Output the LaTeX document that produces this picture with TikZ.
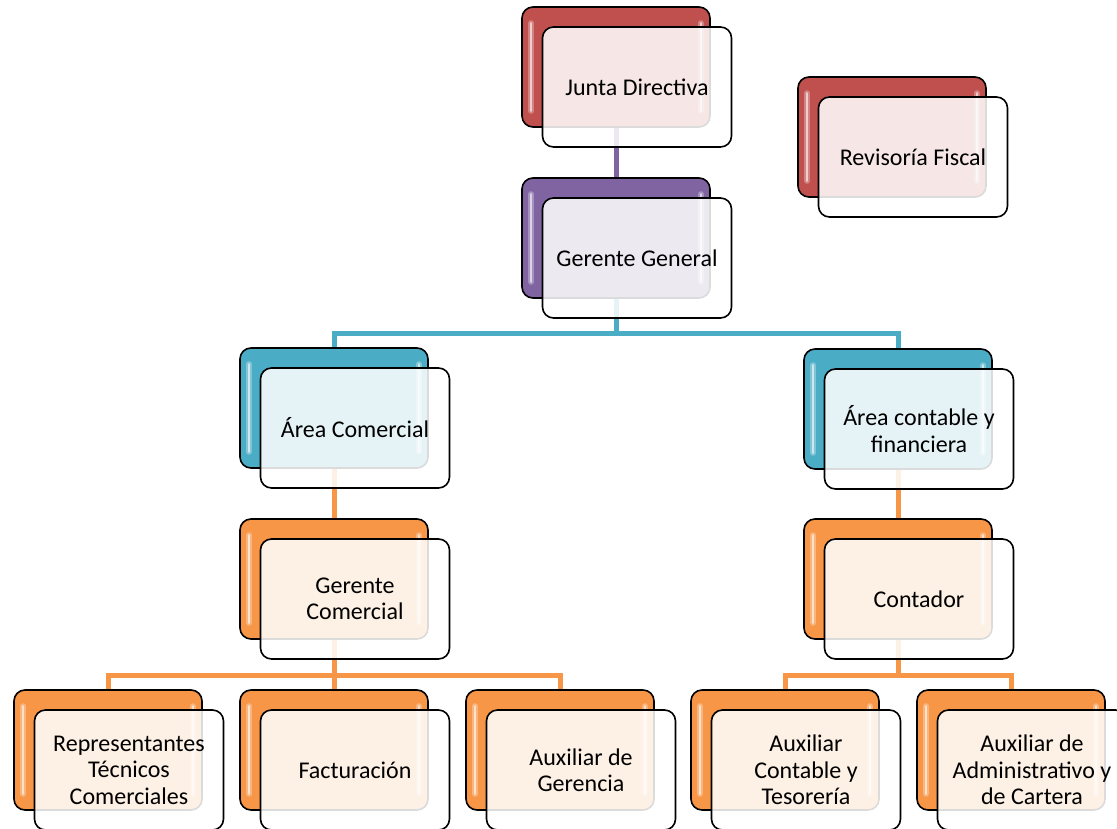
\documentclass[tikz,border=0pt]{standalone}
\usepackage{fontspec}
\setmainfont{Carlito}
\pgfdeclarelayer{bg}
\pgfsetlayers{bg,main}
\definecolor{cred}{HTML}{C0504D}
\definecolor{cpurple}{HTML}{8064A2}
\definecolor{cblue}{HTML}{4BACC6}
\definecolor{corange}{HTML}{F79646}
\tikzset{
  backbox/.style={draw=black, line width=1.6pt, rounded corners=11pt,
    minimum width=188pt, minimum height=120pt, inner sep=0pt},
  frontbox/.style={draw=black, line width=1.6pt, rounded corners=11pt,
    minimum width=189pt, minimum height=120pt, inner sep=2pt,
    fill=white, fill opacity=0.86, text opacity=1, align=center,
    font=\fontsize{24}{26.5}\selectfont},
  glint/.style={white, line width=6pt, opacity=0.3, line cap=round},
  glintcore/.style={white, line width=2.5pt, opacity=0.6, line cap=round},
  conn/.style={line width=5pt},
}
\newcommand\orgbox[5]{%
  \node[backbox, fill=#4] (#1-b) at (#2,#3) {};
  \draw[glint] ([xshift=10pt,yshift=-17pt]#1-b.north west) -- ([xshift=10pt,yshift=17pt]#1-b.south west);
  \draw[glintcore] ([xshift=10pt,yshift=-17pt]#1-b.north west) -- ([xshift=10pt,yshift=17pt]#1-b.south west);
  \draw[glint] ([xshift=-10pt,yshift=-17pt]#1-b.north east) -- ([xshift=-10pt,yshift=17pt]#1-b.south east);
  \draw[glintcore] ([xshift=-10pt,yshift=-17pt]#1-b.north east) -- ([xshift=-10pt,yshift=17pt]#1-b.south east);
  \node[frontbox] (#1) at ([xshift=21pt,yshift=-20pt]#1-b.center) {#5};
}
\begin{document}
\begin{tikzpicture}[x=1pt,y=-1pt]
\useasboundingbox (0,0) rectangle (1117,828);
\clip (0,0) rectangle (1117,828);
\orgbox{jd}{616}{67}{cred}{Junta Directiva}
\orgbox{rf}{892}{137}{cred}{Revisoría Fiscal}
\orgbox{gg}{616}{238}{cpurple}{Gerente General}
\orgbox{ac}{334}{408}{cblue}{Área Comercial}
\orgbox{acf}{898}{409}{cblue}{Área contable y\\financiera}
\orgbox{gc}{334}{579}{corange}{Gerente\\Comercial}
\orgbox{con}{898}{579}{corange}{Contador}
\orgbox{rep}{108}{750}{corange}{Representantes\\Técnicos\\Comerciales}
\orgbox{fac}{334}{750}{corange}{Facturación}
\orgbox{aux}{560}{750}{corange}{Auxiliar de\\Gerencia}
\orgbox{auxc}{785}{750}{corange}{Auxiliar\\Contable y\\Tesorería}
\orgbox{adm}{1011}{750}{corange}{Auxiliar de\\Administrativo y\\de Cartera}
\coordinate (busA) at (616,333);
\coordinate (busB) at (334,675);
\coordinate (busC) at (898,675);
\begin{pgfonlayer}{bg}
\draw[conn, cpurple] (jd-b.center) -- (gg-b.center);
\draw[conn, cblue] (gg-b.center) -- (busA);
\draw[conn, cblue] (ac-b.center) |- (busA) -| (acf-b.center);
\draw[conn, corange] (ac-b.center) -- (gc-b.center);
\draw[conn, corange] (gc-b.center) -- (fac-b.center);
\draw[conn, corange] (rep-b.center) |- (busB) -| (aux-b.center);
\draw[conn, corange] (acf-b.center) -- (con-b.center);
\draw[conn, corange] (con-b.center) -- (busC);
\draw[conn, corange] (auxc-b.center) |- (busC) -| (adm-b.center);
\end{pgfonlayer}
\end{tikzpicture}
\end{document}
